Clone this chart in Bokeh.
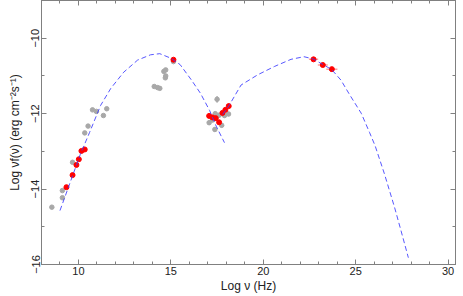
import numpy as np
from bokeh.plotting import figure
from bokeh.models import LinearAxis, Range1d, SingleIntervalTicker, CustomJSTickFormatter
from bokeh.embed import file_html
from bokeh.resources import INLINE

# ---- data (log nu [Hz], log nuFnu [erg cm^-2 s^-1]) ----
sync_x = [9.0, 10.1, 10.6, 11.2, 11.75, 12.45, 13.2, 13.9, 14.4, 15.0, 15.5, 16.1, 16.6, 17.1, 17.45, 17.9]
sync_y = [-14.57, -13.08, -12.50, -11.78, -11.33, -10.90, -10.58, -10.44, -10.41, -10.53, -10.70, -11.10, -11.46, -11.92, -12.33, -12.77]

ic_x = [17.8, 18.13, 18.8, 19.7, 20.6, 21.5, 22.2, 22.7, 23.2, 23.7, 24.2, 24.7, 25.3, 25.75, 26.05, 26.55, 27.1, 27.45, 27.85]
ic_y = [-12.02, -11.80, -11.24, -10.97, -10.75, -10.56, -10.49, -10.55, -10.69, -10.83, -11.11, -11.52, -11.99, -12.50, -12.85, -13.59, -14.48, -15.10, -15.82]

gray_x = [8.56, 9.13, 9.13, 9.68, 10.34, 10.52, 10.76, 10.97, 11.35, 11.53,
          14.10, 14.28, 14.40, 14.62, 14.72, 14.72, 14.70, 15.14,
          17.50, 17.07, 17.25, 17.38, 17.75, 17.61, 18.12, 17.40, 17.90]
gray_y = [-14.48, -14.23, -14.04, -13.29, -12.51, -12.33, -11.90, -11.94, -12.05, -11.87,
          -11.28, -11.31, -11.33, -10.88, -10.84, -11.00, -11.05, -10.62,
          -11.62, -12.24, -12.17, -12.42, -12.31, -12.04, -12.01, -12.00, -12.05]
gray_yerr = [0, 0, 0, 0, 0, 0, 0, 0, 0, 0,
             0, 0, 0, 0.04, 0.04, 0.04, 0.04, 0,
             0.09, 0.06, 0.06, 0.06, 0.06, 0.06, 0.06, 0.06, 0.06]

red_x = [9.35, 9.68, 9.89, 10.02, 10.16, 10.34, 15.14,
         17.07, 17.25, 17.43, 17.61, 17.79, 17.95, 18.13,
         22.72, 23.22, 23.71]
red_y = [-13.95, -13.63, -13.36, -13.21, -12.99, -12.95, -10.57,
         -12.06, -12.10, -12.12, -12.23, -11.98, -11.90, -11.80,
         -10.56, -10.71, -10.82]
red_xerr = [0, 0, 0, 0, 0, 0, 0,
            0.05, 0.05, 0.05, 0.05, 0.05, 0.05, 0.05,
            0.25, 0.27, 0.30]
red_yerr = [0, 0, 0, 0, 0, 0, 0,
            0.07, 0.07, 0.07, 0.07, 0.07, 0.07, 0.07,
            0.04, 0.04, 0.04]

x_major = 5
y_major = 2
y_tick_labels = {-10: "\u221210", -12: "\u221212", -14: "\u221214", -16: "\u221216"}

FONT = "Liberation Sans"
AX_COL = "#808080"

p = figure(width=463, height=296, x_range=Range1d(8.0, 30.4), y_range=Range1d(-16, -9),
           output_backend="svg", toolbar_location=None,
           min_border_left=41, min_border_right=8, min_border_top=0, min_border_bottom=32)
p.xgrid.visible = False
p.ygrid.visible = False
p.outline_line_color = AX_COL
p.background_fill_color = "white"
p.border_fill_color = "white"

def style(ax):
    ax.axis_line_color = AX_COL
    ax.major_tick_line_color = AX_COL
    ax.minor_tick_line_color = AX_COL
    ax.major_tick_in = 5
    ax.major_tick_out = 0
    ax.minor_tick_in = 3
    ax.minor_tick_out = 0
    ax.major_label_text_font = FONT
    ax.major_label_text_font_size = "11px"
    ax.major_label_text_color = "#222222"
    ax.major_label_standoff = 2
    ax.axis_label_text_font = FONT
    ax.axis_label_text_font_size = "12px"
    ax.axis_label_text_font_style = "normal"
    ax.axis_label_text_color = "#222222"
    ax.axis_label_standoff = 1

p.xaxis.ticker = SingleIntervalTicker(interval=x_major, num_minor_ticks=5)
p.yaxis.ticker = SingleIntervalTicker(interval=y_major, num_minor_ticks=2)
style(p.xaxis[0])
style(p.yaxis[0])
p.xaxis.axis_label = "Log ν (Hz)"
p.yaxis.axis_label = "Log νf(ν) (erg cm⁻²s⁻¹)"
p.yaxis.axis_label_standoff = 7
p.yaxis.major_label_orientation = "vertical"
p.yaxis.major_label_overrides = y_tick_labels

blank = CustomJSTickFormatter(code="return ''")
top = LinearAxis(ticker=SingleIntervalTicker(interval=x_major, num_minor_ticks=5), formatter=blank)
style(top)
top.major_label_standoff = 0
p.add_layout(top, "above")
right = LinearAxis(ticker=SingleIntervalTicker(interval=y_major, num_minor_ticks=2), formatter=blank)
style(right)
right.major_label_standoff = 0
p.add_layout(right, "right")

# gray points with error bars
gx = np.array(gray_x); gy = np.array(gray_y); ge = np.array(gray_yerr)
m = ge > 0
p.segment(gx[m], gy[m] - ge[m], gx[m], gy[m] + ge[m], line_color="#b8b8b8", line_width=1.5)
p.scatter(gray_x, gray_y, size=4.5, fill_color="#a8a8a8", line_color="#a8a8a8")

# red points with error bars
rx = np.array(red_x); ry = np.array(red_y); rxe = np.array(red_xerr); rye = np.array(red_yerr)
mx = rxe > 0
p.segment(rx[mx] - rxe[mx], ry[mx], rx[mx] + rxe[mx], ry[mx], line_color="#ff6060", line_width=1.5, line_alpha=0.6)
my = rye > 0
p.segment(rx[my], ry[my] - rye[my], rx[my], ry[my] + rye[my], line_color="#ff6060", line_width=1.5, line_alpha=0.6)
p.scatter(red_x, red_y, size=5, fill_color="#ff0000", line_color="#ff0000")

# model curves
p.line(sync_x, sync_y, line_color="#3a3aff", line_width=1, line_dash="5 3", line_alpha=0.85)
p.line(ic_x, ic_y, line_color="#3a3aff", line_width=1, line_dash="5 3", line_alpha=0.85)

open("out.html", "w").write(file_html(p, INLINE))
